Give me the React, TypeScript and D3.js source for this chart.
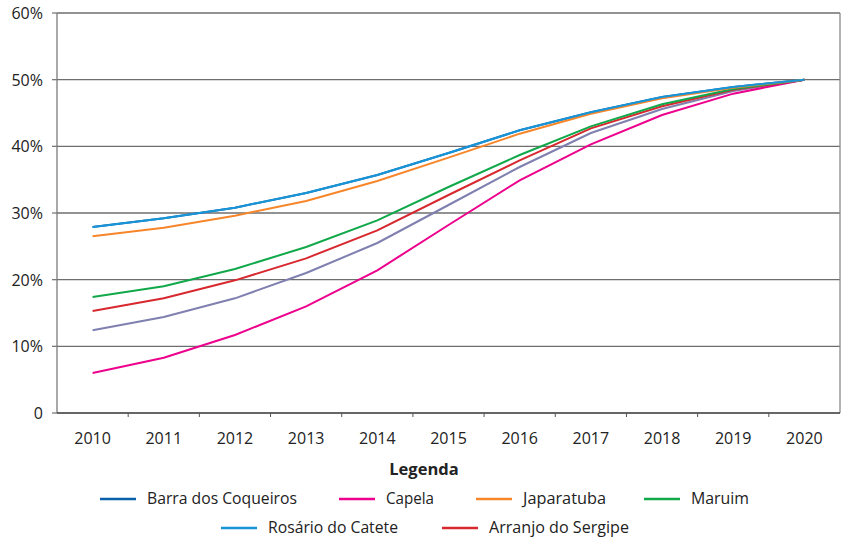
import React from 'react';
import * as d3 from 'd3';

const years = ['2010', '2011', '2012', '2013', '2014', '2015', '2016', '2017', '2018', '2019', '2020'];
const yTicks = [0, 10, 20, 30, 40, 50, 60];

// values in %
const barraDosCoqueiros = [27.9, 29.2, 30.8, 33.0, 35.7, 39.0, 42.4, 45.1, 47.4, 48.9, 50.0];
const capela = [6.0, 8.3, 11.7, 16.0, 21.4, 28.2, 34.9, 40.3, 44.7, 47.9, 50.0];
const japaratuba = [26.5, 27.8, 29.6, 31.8, 34.8, 38.3, 41.9, 44.9, 47.2, 48.8, 50.0];
const maruim = [17.4, 19.0, 21.6, 24.9, 28.9, 33.9, 38.7, 43.0, 46.3, 48.6, 50.0];
const rosarioDoCatete = [27.9, 29.2, 30.8, 33.0, 35.7, 39.0, 42.4, 45.1, 47.4, 48.9, 50.0];
const arranjoDoSergipe = [15.3, 17.2, 19.9, 23.2, 27.4, 32.7, 37.9, 42.7, 46.0, 48.5, 50.0];
const semLegenda = [12.4, 14.4, 17.2, 21.0, 25.5, 31.2, 36.9, 42.0, 45.6, 48.3, 50.0];

const series = [
  { name: 'Barra dos Coqueiros', color: '#0a5fad', values: barraDosCoqueiros },
  { name: '', color: '#7f7fb0', values: semLegenda },
  { name: 'Capela', color: '#ec008c', values: capela },
  { name: 'Arranjo do Sergipe', color: '#d7282f', values: arranjoDoSergipe },
  { name: 'Maruim', color: '#11a84a', values: maruim },
  { name: 'Japaratuba', color: '#f7862a', values: japaratuba },
  { name: 'Rosário do Catete', color: '#1795d6', values: rosarioDoCatete },
];

// legend: sample start x and text width (the original font is narrow)
const legendRows = [
  [
    { name: 'Barra dos Coqueiros', color: '#0a5fad', x: 100, w: 150 },
    { name: 'Capela', color: '#ec008c', x: 339, w: 48 },
    { name: 'Japaratuba', color: '#f7862a', x: 476, w: 83 },
    { name: 'Maruim', color: '#11a84a', x: 644, w: 58 },
  ],
  [
    { name: 'Rosário do Catete', color: '#1795d6', x: 221, w: 130 },
    { name: 'Arranjo do Sergipe', color: '#d7282f', x: 442, w: 140 },
  ],
];

const font = '"Open Sans", "Noto Sans", sans-serif';

export default function App() {
  const left = 57, right = 840, top = 13, bottom = 413;
  const x = d3.scaleBand<string>().domain(years).range([left, right]);
  const y = d3.scaleLinear().domain([0, 60]).range([bottom, top]);
  const line = d3
    .line<number>()
    .x((_, i) => (x(years[i]) as number) + x.bandwidth() / 2)
    .y((d) => y(d));

  return (
    <svg width={843} height={538} style={{ position: 'absolute', left: 0, top: 0 }} fontFamily={font}>
      <rect width={843} height={538} fill="#fff" />
      {yTicks.filter((t) => t > 0).map((t) => (
        <line key={t} x1={left} x2={right} y1={y(t)} y2={y(t)} stroke="#6e6e6e" strokeWidth={1.3} />
      ))}
      <line x1={right} x2={right} y1={top} y2={bottom} stroke="#8a8a8a" strokeWidth={1.3} />
      <line x1={left} x2={left} y1={top} y2={bottom} stroke="#7a7a7a" strokeWidth={1.3} />
      {yTicks.map((t) => (
        <g key={t}>
          <line x1={left - 5} x2={left} y1={y(t)} y2={y(t)} stroke="#7a7a7a" strokeWidth={1.3} />
          <text x={43} y={y(t)} dy="0.38em" textAnchor="end" fontSize={16} fill="#222">
            {t === 0 ? '0' : `${t}%`}
          </text>
        </g>
      ))}
      <line x1={left} x2={right} y1={bottom} y2={bottom} stroke="#333" strokeWidth={1.3} />
      {years.map((yr, i) => (
        <g key={yr}>
          {i > 0 && (
            <line x1={x(yr)} x2={x(yr)} y1={bottom} y2={bottom + 4} stroke="#555" strokeWidth={1} />
          )}
          <text
            x={(x(yr) as number) + x.bandwidth() / 2}
            y={444}
            textAnchor="middle"
            fontSize={16}
            fill="#222"
          >
            {yr}
          </text>
        </g>
      ))}
      {series.map((s) => (
        <path key={s.color} d={line(s.values) ?? ''} fill="none" stroke={s.color} strokeWidth={2} />
      ))}
      <text x={424} y={475} textAnchor="middle" fontSize={16.5} fontWeight="bold" fill="#222">
        Legenda
      </text>
      {legendRows.map((row, r) =>
        row.map((e) => (
          <g key={e.name}>
            <line x1={e.x} x2={e.x + 36} y1={499 + r * 29} y2={499 + r * 29} stroke={e.color} strokeWidth={2.5} />
            <text
              x={e.x + 47}
              y={504 + r * 29}
              fontSize={16.5}
              fill="#222"
              textLength={e.w}
              lengthAdjust="spacingAndGlyphs"
            >
              {e.name}
            </text>
          </g>
        ))
      )}
    </svg>
  );
}
